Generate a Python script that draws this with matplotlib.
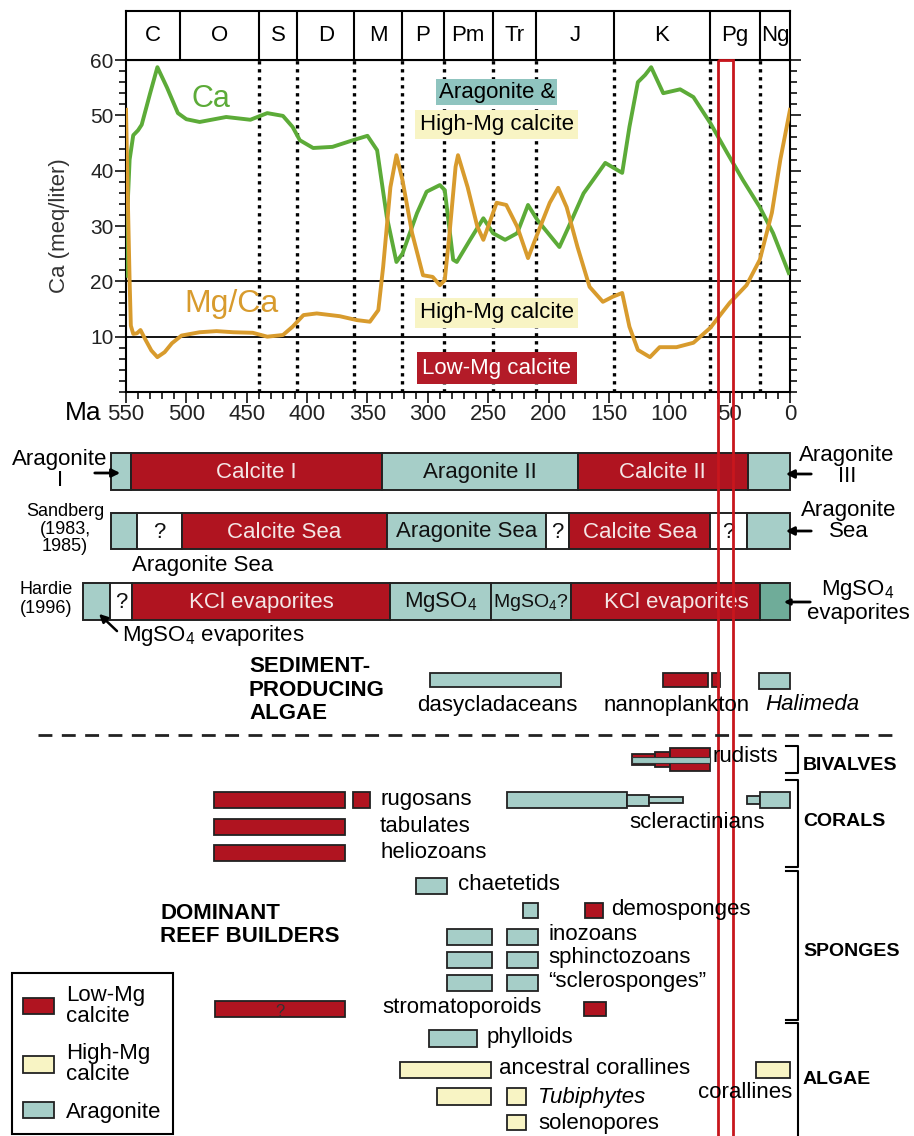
import matplotlib
matplotlib.use('Agg')
import matplotlib.pyplot as plt
from matplotlib.patches import Patch, Rectangle
from matplotlib.ticker import MultipleLocator

plt.rcParams['font.family'] = ['Liberation Sans', 'DejaVu Sans']
plt.rcParams['mathtext.fontset'] = 'custom'
plt.rcParams['mathtext.rm'] = 'Liberation Sans'
plt.rcParams['mathtext.it'] = 'Liberation Sans:italic'
plt.rcParams['mathtext.bf'] = 'Liberation Sans:bold'

RED = '#b01420'
TEAL = '#a6cec8'
TEAL_DK = '#6fac99'
YEL = '#f8f4c4'
EDGE = '#222222'
GREEN = '#5cab38'
ORANGE = '#d89b2d'
FILL = {'C': RED, 'H': YEL, 'A': TEAL, 'M': TEAL_DK, 'Q': 'white'}

# seawater Ca (meq/liter) and Mg/Ca through time
ca_age = [550, 549, 547, 544, 540, 537, 530, 524, 516, 507, 500, 489, 467, 447, 433, 420,
          412, 406, 395, 379, 362, 350, 342, 334, 326, 321, 309, 301, 290, 286, 279, 276,
          265, 254, 246, 236, 226, 217, 209, 191, 182, 171, 153, 146, 139, 133, 126, 120,
          115, 105, 91, 80, 66, 52, 39, 25, 14, 1]
ca_val = [21, 32, 42, 46.4, 47.3, 48.3, 54, 58.7, 55, 50.4, 49.3, 48.8, 49.7, 49.2, 50.4, 49.9,
          47.9, 45.5, 44.1, 44.3, 45.5, 46.3, 43.7, 31.7, 23.5, 25, 32.3, 36.2, 37.4, 36.5, 23.9, 23.5,
          27.5, 31.4, 28.7, 27.5, 28.7, 33.8, 31, 26.2, 30.5, 35.9, 41.4, 40.5, 39.6, 47.9, 56, 57.3,
          58.7, 54, 54.7, 53.3, 48.6, 43.2, 38.3, 33.4, 28.7, 21.5]

mgca_age = [550, 549, 548, 547, 546, 544, 541, 538, 534, 529, 524, 518, 512, 504, 489, 475,
            461, 445, 433, 420, 412, 403, 392, 373, 359, 348, 341, 337, 331, 326, 321, 313,
            304, 296, 290, 286, 282, 277, 275, 267, 259, 254, 250, 243, 235, 226, 217, 209,
            199, 192, 185, 176, 166, 155, 147, 139, 133, 126, 116, 108, 94, 80, 66, 50,
            36, 25, 15, 8, 0]
mgca_val = [51, 40, 30, 20, 12, 10.5, 10.6, 11.2, 9.5, 7.5, 6.3, 7.2, 8.8, 10.2, 10.8, 11,
            10.8, 10.7, 10, 10.3, 11.8, 13.9, 14.2, 13.7, 13, 12.7, 14.8, 22.6, 37, 42.8, 38.3, 28.7,
            21.1, 20.8, 19.3, 20.2, 28.7, 40.7, 42.8, 37, 29.9, 27.5, 29.9, 34.2, 33.8, 29.9, 24.2, 28.7,
            34.2, 36.9, 33.4, 26.2, 19, 16.3, 17.2, 17.9, 11.8, 7.6, 6.3, 8.1, 8.1, 8.9, 11.6, 16.1,
            19.3, 23.9, 32.4, 42, 51]

periods = ['C', 'O', 'S', 'D', 'M', 'P', 'Pm', 'Tr', 'J', 'K', 'Pg', 'Ng']
period_bounds = [550, 505, 440, 408, 361, 321, 287, 246, 210, 146, 66, 25, 0]

# seawater mineralogy / evaporite bands (edges in Ma)
stanley_edges = [562, 546, 338, 176, 35, 0]
stanley_kinds = ['A', 'C', 'A', 'C', 'A']
stanley_labels = ['', 'Calcite I', 'Aragonite II', 'Calcite II', '']

sandberg_edges = [562, 541, 504, 334, 202, 183, 66, 36, 0]
sandberg_kinds = ['A', 'Q', 'C', 'A', 'Q', 'C', 'Q', 'A']
sandberg_labels = ['', '?', 'Calcite Sea', 'Aragonite Sea', '?', 'Calcite Sea', '?', '']

hardie_edges = [586, 563, 545, 331, 248, 181, 25, 0]
hardie_kinds = ['A', 'Q', 'C', 'A', 'A', 'C', 'M']
hardie_labels = ['', '?', 'KCl evaporites', r'MgSO$_4$', r'MgSO$_4$?', 'KCl evaporites', '']

# sediment-producing algae (old Ma, young Ma, mineralogy)
dasycladaceans = [(298, 190, 'A')]
nannoplankton = [(105, 68, 'C'), (65, 58, 'C')]
halimeda = [(26, 0, 'A')]

# dominant reef builders
rugosans = [(477, 369, 'C'), (362, 348, 'C')]
tabulates = [(477, 369, 'C')]
heliozoans = [(477, 369, 'C')]
rudists = [(131, 112, 'C'), (112, 99, 'C'), (99, 66, 'C')]
scleractinians = [(234, 135, 'A'), (135, 117, 'A'), (117, 89, 'A'), (36, 25, 'A'), (25, 0, 'A')]
chaetetids = [(310, 284, 'A')]
chaetetids_tr = [(221, 209, 'A')]
demosponges = [(170, 155, 'C')]
inozoans = [(284, 247, 'A'), (234, 209, 'A')]
sphinctozoans = [(284, 247, 'A'), (234, 209, 'A')]
sclerosponges = [(284, 247, 'A'), (234, 209, 'A')]
stromatoporoids = [(476, 369, 'C'), (171, 152, 'C')]
phylloids = [(299, 259, 'A')]
ancestral_corallines = [(323, 248, 'H')]
corallines = [(28, 0, 'H')]
tubiphytes = [(292, 248, 'H'), (234, 219, 'H')]
solenopores = [(234, 219, 'H')]

W, H = 914, 1136
PX_PER_MA = 1.2073
X_ZERO = 790

fig = plt.figure(figsize=(W / 100, H / 100), dpi=100)

# ---- top chart ----
ax = fig.add_axes([126 / W, 1 - 392 / H, 664 / W, 332 / H])
ax.plot(ca_age, ca_val, color=GREEN, lw=2.8, solid_joinstyle='round', zorder=3)
ax.plot(mgca_age, mgca_val, color=ORANGE, lw=2.8, solid_joinstyle='round', zorder=3)
ax.set_xlim(550, 0)
ax.set_ylim(0, 60)
for b in period_bounds[2:-1]:
    ax.axvline(b, color='k', ls=(0, (1, 1.4)), lw=2.4, zorder=2)
ax.axhline(20, color='k', lw=1.3)
ax.axhline(10, color='k', lw=1.3)
ax.xaxis.set_major_locator(MultipleLocator(50))
ax.xaxis.set_minor_locator(MultipleLocator(10))
ax.set_yticks([10, 20, 30, 40, 50, 60])
ax.yaxis.set_minor_locator(MultipleLocator(2))
ax.tick_params(which='both', direction='out', right=True, width=1.3, colors='#222')
ax.tick_params(which='major', length=8)
ax.tick_params(which='minor', length=5)
ax.tick_params(axis='x', labelsize=16, pad=1)
ax.tick_params(axis='y', labelsize=15, pad=1)
for s in ax.spines.values():
    s.set_linewidth(1.5)
ax.set_ylabel('Ca (meq/liter)', fontsize=16, color='#333')
ax.yaxis.set_label_coords(-0.084, 0.5)

ax.text(480, 53, 'Ca', color=GREEN, fontsize=22, ha='center', va='center')
ax.text(463, 15.9, 'Mg/Ca', color=ORANGE, fontsize=23, ha='center', va='center')
ax.text(243, 54.2, 'Aragonite &', fontsize=16, ha='center', va='center',
        bbox=dict(fc='#8fc4bf', ec='none', pad=2))
ax.text(243, 48.3, 'High-Mg calcite', fontsize=16, ha='center', va='center',
        bbox=dict(fc=YEL, ec='none', pad=3))
ax.text(243, 14.3, 'High-Mg calcite', fontsize=16, ha='center', va='center',
        bbox=dict(fc=YEL, ec='none', pad=3))
ax.text(243, 4.3, 'Low-Mg calcite', fontsize=16, ha='center', va='center', color='white',
        bbox=dict(fc='#b31b28', ec='none', pad=4))

# period strip
axp = fig.add_axes([126 / W, 1 - 60 / H, 664 / W, 49 / H])
axp.set_xlim(550, 0)
axp.set_ylim(0, 1)
axp.set_xticks([])
axp.set_yticks([])
for s in axp.spines.values():
    s.set_linewidth(1.5)
for b in period_bounds[1:-1]:
    axp.axvline(b, color='k', lw=1.5)
for name, a, b in zip(periods, period_bounds[:-1], period_bounds[1:]):
    axp.text((a + b) / 2, 0.5, name, fontsize=16, ha='center', va='center')

# ---- lower panel: x in Ma, y in pixel rows ----
lo = fig.add_axes([0, 0, 1, 1], zorder=5)
lo.set_xlim(X_ZERO / PX_PER_MA, (X_ZERO - W) / PX_PER_MA)
lo.set_ylim(H, 0)
lo.axis('off')
lo.patch.set_alpha(0)

pa = fig.add_axes([0, 0, 1, 1], zorder=6)
pa.set_xlim(0, W)
pa.set_ylim(H, 0)
pa.axis('off')
pa.patch.set_alpha(0)


def band(edges, kinds, labels, y0, y1, fs=16, shift=None):
    for i, (a, b, k, lab) in enumerate(zip(edges[:-1], edges[1:], kinds, labels)):
        lo.barh((y0 + y1) / 2, a - b, left=b, height=y1 - y0, color=FILL[k],
                edgecolor=EDGE, lw=1.4)
        if lab:
            col = '#f4e6e6' if k == 'C' else '#111'
            size = 14 if lab.endswith('?') and len(lab) > 1 else fs
            dx = shift[i] if shift else 0
            lo.text((a + b) / 2 + dx, (y0 + y1) / 2 + 1, lab, color=col, fontsize=size,
                    ha='center', va='center')


band(stanley_edges, stanley_kinds, stanley_labels, 453, 490)
band(sandberg_edges, sandberg_kinds, sandberg_labels, 513, 549)
band(hardie_edges, hardie_kinds, hardie_labels, 583, 620,
     shift=[0, 0, 0, 0, 0, -9, 0])


def bars(segs, yc, hts=None, lw=1.3):
    for i, (a, b, k) in enumerate(segs):
        h = hts[i] if hts else 16
        lo.barh(yc, a - b, left=b, height=h, color=FILL[k], edgecolor=EDGE, lw=lw)


# side labels for the bands
pa.text(60, 470, 'Aragonite\nI', fontsize=16, ha='center', va='center', linespacing=1.0)
pa.annotate('', xy=(123, 473), xytext=(92, 473),
            arrowprops=dict(arrowstyle='-|>', color='k', lw=2, mutation_scale=12))
pa.text(65, 529, 'Sandberg\n(1983,\n1985)', fontsize=13, ha='center', va='center', linespacing=1.05)
pa.text(132, 566, 'Aragonite Sea', fontsize=16, ha='left', va='center')
pa.text(46, 599, 'Hardie\n(1996)', fontsize=13, ha='center', va='center', linespacing=1.1)
pa.text(122, 636, r'MgSO$_4$ evaporites', fontsize=16, ha='left', va='center')
pa.annotate('', xy=(97, 612), xytext=(119, 633),
            arrowprops=dict(arrowstyle='-|>', color='k', lw=1.8, mutation_scale=12))
pa.text(847, 466, 'Aragonite\nIII', fontsize=16, ha='center', va='center', linespacing=1.0)
pa.annotate('', xy=(783, 474), xytext=(814, 474),
            arrowprops=dict(arrowstyle='-|>', color='k', lw=2, mutation_scale=12))
pa.text(849, 521, 'Aragonite\nSea', fontsize=16, ha='center', va='center', linespacing=1.0)
pa.annotate('', xy=(783, 531), xytext=(814, 531),
            arrowprops=dict(arrowstyle='-|>', color='k', lw=2, mutation_scale=12))
pa.text(858, 601, 'MgSO$_4$\nevaporites', fontsize=16, ha='center', va='center', linespacing=1.0)
pa.annotate('', xy=(781, 602), xytext=(813, 602),
            arrowprops=dict(arrowstyle='-|>', color='k', lw=2, mutation_scale=8))

# sediment-producing algae
pa.text(249, 690, 'SEDIMENT-\nPRODUCING\nALGAE', fontsize=16, fontweight='bold',
        ha='left', va='center', linespacing=1.15)
bars(dasycladaceans, 680, [14])
bars(nannoplankton, 680, [14, 14])
bars(halimeda, 681, [16])
pa.text(497, 705, 'dasycladaceans', fontsize=16, ha='center', va='center')
pa.text(677, 705, 'nannoplankton', fontsize=16, ha='center', va='center')
pa.text(812, 705, 'Halimeda', fontsize=16, ha='center', va='center', style='italic')

pa.plot([38, 897], [735, 735], color='#222', lw=2, ls=(0, (5, 3.4)))

# reef builders
bars(rugosans, 800)
bars(tabulates, 827)
bars(heliozoans, 853)
bars(rudists, 759.5, [11, 15, 23])
lo.barh(759.5, rudists[0][0] - rudists[-1][1], left=rudists[-1][1], height=6,
        color='#9cc9c2', edgecolor='#333', lw=0.8)
bars(scleractinians, 800, [16, 11, 6, 8, 16])
bars(chaetetids, 886)
bars(chaetetids_tr, 910.5, [15])
bars(demosponges, 910.5, [15])
bars(inozoans, 937)
bars(sphinctozoans, 960)
bars(sclerosponges, 982.5)
bars(stromatoporoids, 1009, [16, 14])
bars(phylloids, 1038.5, [17])
bars(ancestral_corallines, 1070)
bars(corallines, 1070)
bars(tubiphytes, 1096.5, [17, 17])
bars(solenopores, 1122.5, [15])
lo.text((stromatoporoids[0][0] + stromatoporoids[0][1]) / 2, 1012, '?', fontsize=12,
        color='#333', ha='center', va='center')

reef_labels = [('rugosans', 380, 800), ('tabulates', 380, 826), ('heliozoans', 380, 852),
               ('rudists', 713, 757), ('chaetetids', 458, 885), ('demosponges', 611, 910),
               ('inozoans', 548, 935), ('sphinctozoans', 548, 957),
               ('\u201csclerosponges\u201d', 548, 982), ('stromatoporoids', 382, 1008),
               ('phylloids', 487, 1037), ('ancestral corallines', 499, 1068),
               ('solenopores', 538, 1123)]
for txt, x, y in reef_labels:
    pa.text(x, y, txt, fontsize=16, ha='left', va='center')
pa.text(538, 1097, 'Tubiphytes', fontsize=16, ha='left', va='center', style='italic')
pa.text(697, 822, 'scleractinians', fontsize=16, ha='center', va='center')
pa.text(792, 1093, 'corallines', fontsize=16, ha='right', va='center')

pa.text(160, 925, 'DOMINANT\nREEF BUILDERS', fontsize=16, fontweight='bold',
        ha='left', va='center', linespacing=1.15)

# group brackets
for (y0, y1), name, ly in zip([(746, 773), (780, 867), (871, 1020), (1023, 1142)],
                              ['BIVALVES', 'CORALS', 'SPONGES', 'ALGAE'],
                              [765, 822, 951, 1080]):
    pa.plot([786, 798, 798, 786], [y0, y0, y1, y1], color='k', lw=1.5, clip_on=False)
    pa.text(803, ly, name, fontsize=14, fontweight='bold', ha='left', va='center')

# highlighted interval (Paleogene, ~60-48 Ma)
lo.add_patch(Rectangle((59.5, 60), -12, H - 58, fill=False, ec='#c8161d', lw=2,
                       zorder=20, clip_on=False))

fig.text(65 / W, 1 - 413 / H, 'Ma', fontsize=19, ha='left', va='center')

handles = [Patch(fc=RED, ec=EDGE, lw=1.3), Patch(fc=YEL, ec=EDGE, lw=1.3),
           Patch(fc=TEAL, ec=EDGE, lw=1.3)]
leg = fig.legend(handles, ['Low-Mg\ncalcite', 'High-Mg\ncalcite', 'Aragonite'],
                 loc='lower left', bbox_to_anchor=(12 / W, 2 / H), fontsize=16,
                 frameon=True, fancybox=False, edgecolor='k', framealpha=1,
                 borderpad=0.5, handlelength=1.4, handleheight=0.75,
                 handletextpad=0.55, labelspacing=0.75, borderaxespad=0)
leg.get_frame().set_linewidth(1.5)
for t in leg.get_texts():
    t.set_linespacing(1.0)

fig.savefig('out.png', dpi=100)
